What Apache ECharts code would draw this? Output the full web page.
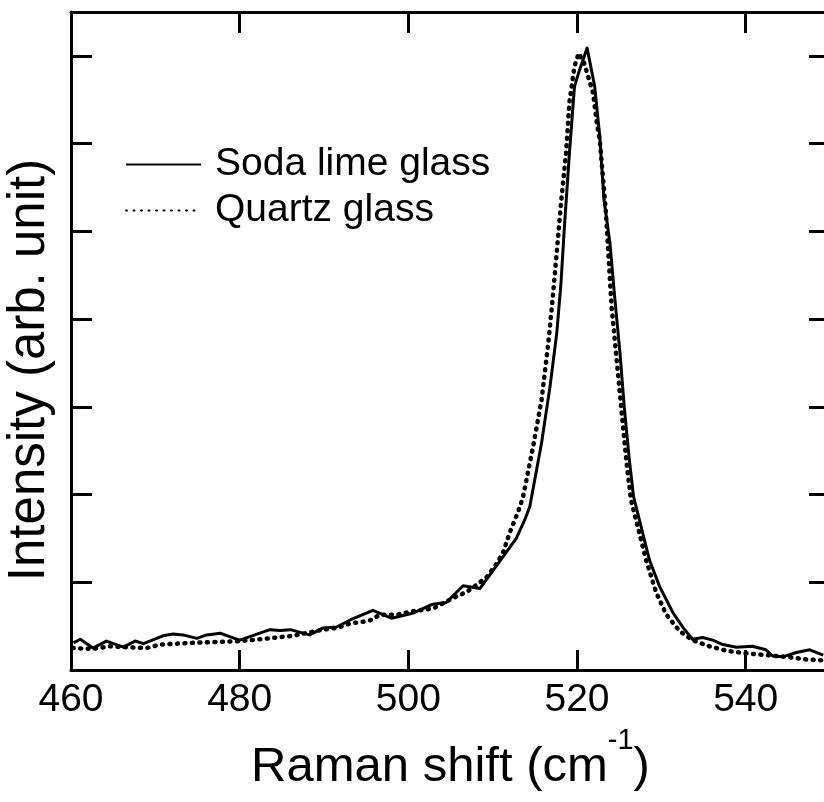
<!DOCTYPE html>
<html><head><meta charset="utf-8">
<script src="https://cdn.jsdelivr.net/npm/echarts@6/dist/echarts.min.js"></script>
<style>html,body{margin:0;padding:0;background:#fff;overflow:hidden}#c{width:830px;height:802px}</style>
</head><body><div id="c"></div>
<script>
const xTicks = [460, 480, 500, 520, 540];
const seriesNames = ['Soda lime glass', 'Quartz glass'];
const xTitle = 'Raman shift (cm';
const xTitleSup = '-1';
const yTitle = 'Intensity (arb. unit)';

const sodaX = [460.3,461.1,462.6,464.2,466.2,467.6,468.6,470.9,472.1,473.3,474.9,476.1,477.7,478.8,480.0,481.2,483.6,484.8,486.0,488.3,489.9,491.5,493.1,495.8,498.0,500.6,502.9,504.5,506.5,508.5,510.4,512.8,513.8,514.4,515.8,516.8,517.6,518.1,518.5,519.1,519.7,520.3,521.2,522.1,522.7,523.2,523.9,524.5,525.1,525.6,526.2,526.7,528.6,529.8,531.4,532.6,533.7,534.9,536.1,537.3,538.9,540.8,542.4,543.2,544.4,546.0,547.6,549.2];
const sodaY = [0.31,0.35,0.25,0.33,0.26,0.33,0.30,0.39,0.41,0.40,0.36,0.40,0.42,0.38,0.34,0.38,0.46,0.45,0.46,0.40,0.48,0.49,0.57,0.68,0.59,0.65,0.75,0.77,0.96,0.93,1.18,1.50,1.71,1.86,2.59,3.23,3.84,4.41,5.04,5.89,6.65,6.84,7.09,6.65,6.08,5.36,4.87,4.22,3.61,3.00,2.40,1.98,1.25,0.95,0.65,0.48,0.35,0.37,0.34,0.29,0.26,0.27,0.23,0.16,0.15,0.20,0.23,0.17];

const quartzX = [460.2,462.6,464.6,466.6,469.0,470.6,474.5,477.7,480.0,482.4,486.3,489.9,491.5,493.1,494.6,495.6,496.6,498.6,500.6,502.9,505.3,506.9,508.1,509.3,510.4,511.2,512.0,513.0,513.6,514.8,515.8,516.6,517.1,517.7,518.1,518.7,519.1,519.7,520.2,520.8,521.9,522.3,522.7,523.4,524.1,524.7,525.3,525.9,526.4,528.2,529.4,530.6,532.2,533.7,535.7,537.7,540.1,542.4,544.8,547.2,549.2];
const quartzY = [0.25,0.24,0.27,0.26,0.25,0.29,0.31,0.32,0.33,0.35,0.39,0.46,0.48,0.53,0.55,0.57,0.63,0.63,0.67,0.70,0.82,0.89,0.97,1.06,1.20,1.33,1.56,1.80,1.97,2.55,3.08,3.73,4.22,4.87,5.32,5.89,6.47,6.88,7.03,6.93,6.58,6.27,6.04,5.25,4.14,3.54,2.93,2.34,1.94,1.25,0.88,0.63,0.44,0.34,0.27,0.22,0.19,0.17,0.15,0.12,0.11];

const FONT = 'Liberation Sans, Arial, sans-serif';
const zip = (xs, ys) => xs.map((x, i) => [x, ys[i]]);
const axisLine = { show: true, onZero: false, lineStyle: { color: '#000', width: 3 } };
const tick = (len) => ({ show: true, inside: true, length: len, lineStyle: { color: '#000', width: 3 } });

const chart = echarts.init(document.getElementById('c'), null, { renderer: 'canvas' });
chart.setOption({
  animation: false,
  backgroundColor: '#fff',
  grid: { left: 71, right: 0, top: 12, bottom: 132, containLabel: false, outerBoundsMode: 'none' },
  legend: {
    orient: 'vertical', left: 125, top: 145, padding: 0,
    itemWidth: 75, itemHeight: 14, itemGap: 7,
    itemStyle: { color: 'rgba(0,0,0,0)', borderColor: 'rgba(0,0,0,0)', borderWidth: 0 },
    textStyle: { fontSize: 39, color: '#000', fontFamily: FONT, padding: [0, 0, 0, 9] },
    data: seriesNames
  },
  xAxis: [{
    type: 'value', min: 460, max: 550, interval: 20, position: 'bottom',
    axisLine, axisTick: tick(20), splitLine: { show: false },
    axisLabel: { fontSize: 39, color: '#000', fontFamily: FONT, margin: 11, showMaxLabel: false,
      formatter: v => xTicks.includes(v) ? String(v) : '' },
    name: '{t|' + xTitle + '}{s|' + xTitleSup + '}{t|)}',
    nameLocation: 'middle', nameGap: 56,
    nameTextStyle: { color: '#000', fontFamily: FONT, fontSize: 49,
      rich: { t: { fontSize: 49, fontFamily: FONT, color: '#000', lineHeight: 82 },
              s: { fontSize: 29, fontFamily: FONT, color: '#000', lineHeight: 30, verticalAlign: 'top' } } }
  }, {
    type: 'value', min: 460, max: 550, interval: 20, position: 'top',
    axisLine, axisTick: tick(21), splitLine: { show: false }, axisLabel: { show: false }
  }],
  yAxis: [{
    type: 'value', min: 0, max: 7.5, interval: 1, position: 'left',
    axisLine, axisTick: tick(21), splitLine: { show: false }, axisLabel: { show: false },
    name: yTitle, nameLocation: 'middle', nameGap: 16,
    nameTextStyle: { color: '#000', fontFamily: FONT, fontSize: 51, padding: [0, 58, 0, 0] }
  }, {
    type: 'value', min: 0, max: 7.5, interval: 1, position: 'right',
    axisLine, axisTick: tick(21), splitLine: { show: false }, axisLabel: { show: false }
  }],
  series: [{
    name: seriesNames[0], type: 'line', xAxisIndex: 0, yAxisIndex: 0,
    data: zip(sodaX, sodaY), symbol: 'none', smooth: false,
    lineStyle: { color: '#000', width: 3, join: 'round' }, itemStyle: { color: '#000' }
  }, {
    name: seriesNames[1], type: 'line', xAxisIndex: 0, yAxisIndex: 0,
    data: zip(quartzX, quartzY), symbol: 'none', smooth: false,
    lineStyle: { color: '#000', width: 4.5, type: [1, 6.5], cap: 'round' }, itemStyle: { color: '#000' }
  }]
});
</script></body></html>
